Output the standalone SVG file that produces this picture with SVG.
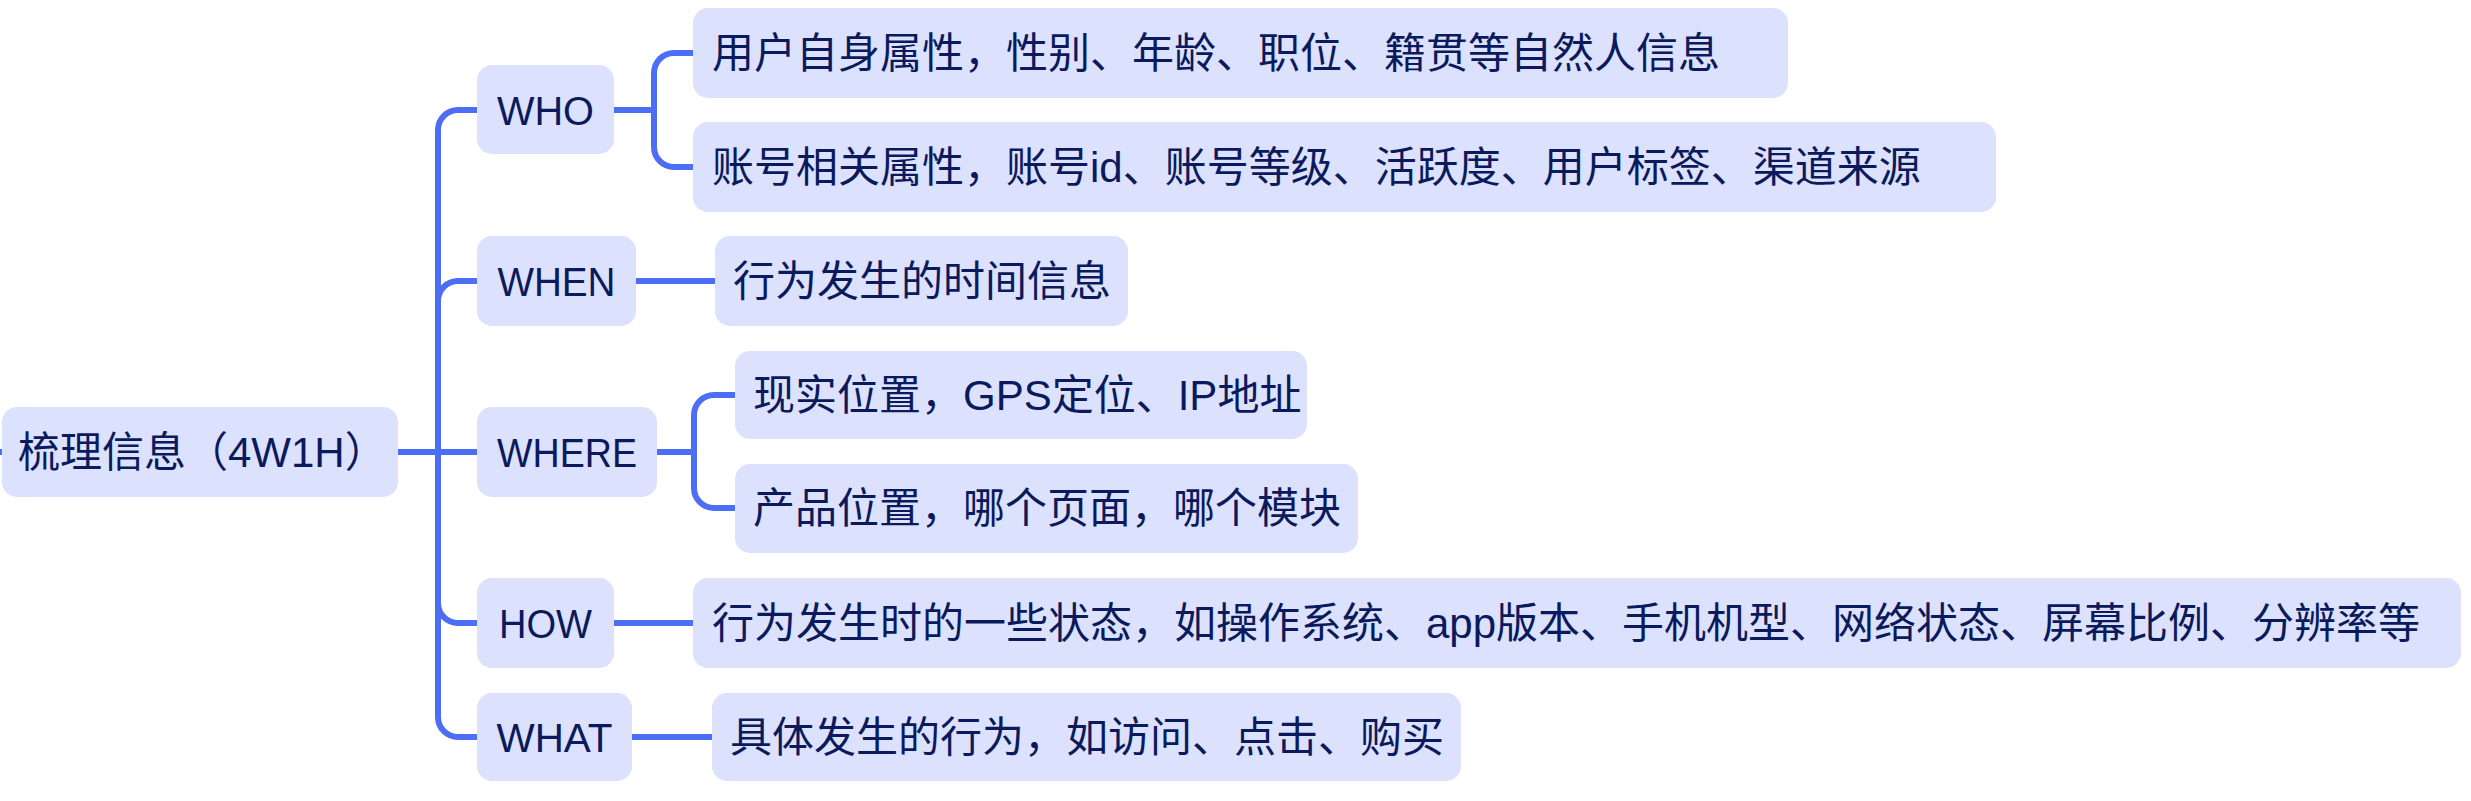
<svg xmlns="http://www.w3.org/2000/svg" width="2471" height="801" viewBox="0 0 2471 801">
<style>
.box{fill:#DCE1FD;}
.t{font-family:"Liberation Sans","Noto Sans CJK SC",sans-serif;font-size:42px;fill:#0A1A5C;}
.lbl{font-family:"Liberation Sans","Noto Sans CJK SC",sans-serif;font-size:40px;fill:#0A1A5C;text-anchor:middle;}
.c{fill:none;stroke:#4C6EF5;stroke-width:6;stroke-linecap:butt;stroke-linejoin:round;}
</style>
<rect width="2471" height="801" fill="#FFFFFF"/>
<g id="connectors">
<path class="c" d="M0,452 H4"/>
<path class="c" d="M398,452 H477"/>
<path class="c" d="M438,452 V130 A20,20 0 0 1 458,110 H477"/>
<path class="c" d="M438,452 V301 A20,20 0 0 1 458,281 H477"/>
<path class="c" d="M438,452 V603 A20,20 0 0 0 458,623 H477"/>
<path class="c" d="M438,452 V717 A20,20 0 0 0 458,737 H477"/>
<path class="c" d="M614,110 H654"/>
<path class="c" d="M654,110 V73 A20,20 0 0 1 674,53 H693"/>
<path class="c" d="M654,110 V147 A20,20 0 0 0 674,167 H693"/>
<path class="c" d="M636,281 H715"/>
<path class="c" d="M657,452 H694"/>
<path class="c" d="M694,452 V415 A20,20 0 0 1 714,395 H735"/>
<path class="c" d="M694,452 V488 A20,20 0 0 0 714,508 H735"/>
<path class="c" d="M614,623 H693"/>
<path class="c" d="M632,737 H712"/>
</g>
<g id="root">
<rect class="box" x="2" y="407" width="396" height="90" rx="15"/>
<text class="t" x="18" y="467">梳理信息（4W1H）</text>
</g>
<g id="who">
<rect class="box" x="477" y="65" width="137" height="89" rx="15"/>
<text class="lbl" x="545.5" y="125" textLength="97" lengthAdjust="spacingAndGlyphs">WHO</text>
</g>
<g id="who-1">
<rect class="box" x="693" y="8" width="1095" height="90" rx="15"/>
<text class="t" x="712" y="68">用户自身属性，性别、年龄、职位、籍贯等自然人信息</text>
</g>
<g id="who-2">
<rect class="box" x="693" y="122" width="1303" height="90" rx="15"/>
<text class="t" x="712" y="182">账号相关属性，账号id、账号等级、活跃度、用户标签、渠道来源</text>
</g>
<g id="when">
<rect class="box" x="477" y="236" width="159" height="90" rx="15"/>
<text class="lbl" x="556.5" y="296" textLength="118" lengthAdjust="spacingAndGlyphs">WHEN</text>
</g>
<g id="when-1">
<rect class="box" x="715" y="236" width="413" height="90" rx="15"/>
<text class="t" x="733" y="296">行为发生的时间信息</text>
</g>
<g id="where">
<rect class="box" x="477" y="407" width="180" height="90" rx="15"/>
<text class="lbl" x="567" y="467" textLength="140" lengthAdjust="spacingAndGlyphs">WHERE</text>
</g>
<g id="where-1">
<rect class="box" x="735" y="351" width="572" height="88" rx="15"/>
<text class="t" x="753" y="410">现实位置，GPS定位、IP地址</text>
</g>
<g id="where-2">
<rect class="box" x="735" y="464" width="623" height="89" rx="15"/>
<text class="t" x="753" y="523">产品位置，哪个页面，哪个模块</text>
</g>
<g id="how">
<rect class="box" x="477" y="578" width="137" height="90" rx="15"/>
<text class="lbl" x="545.5" y="638" textLength="93" lengthAdjust="spacingAndGlyphs">HOW</text>
</g>
<g id="how-1">
<rect class="box" x="693" y="578" width="1768" height="90" rx="15"/>
<text class="t" x="712" y="638">行为发生时的一些状态，如操作系统、app版本、手机机型、网络状态、屏幕比例、分辨率等</text>
</g>
<g id="what">
<rect class="box" x="477" y="693" width="155" height="88" rx="15"/>
<text class="lbl" x="554.5" y="752" textLength="116" lengthAdjust="spacingAndGlyphs">WHAT</text>
</g>
<g id="what-1">
<rect class="box" x="712" y="693" width="749" height="88" rx="15"/>
<text class="t" x="730" y="752">具体发生的行为，如访问、点击、购买</text>
</g>
</svg>
